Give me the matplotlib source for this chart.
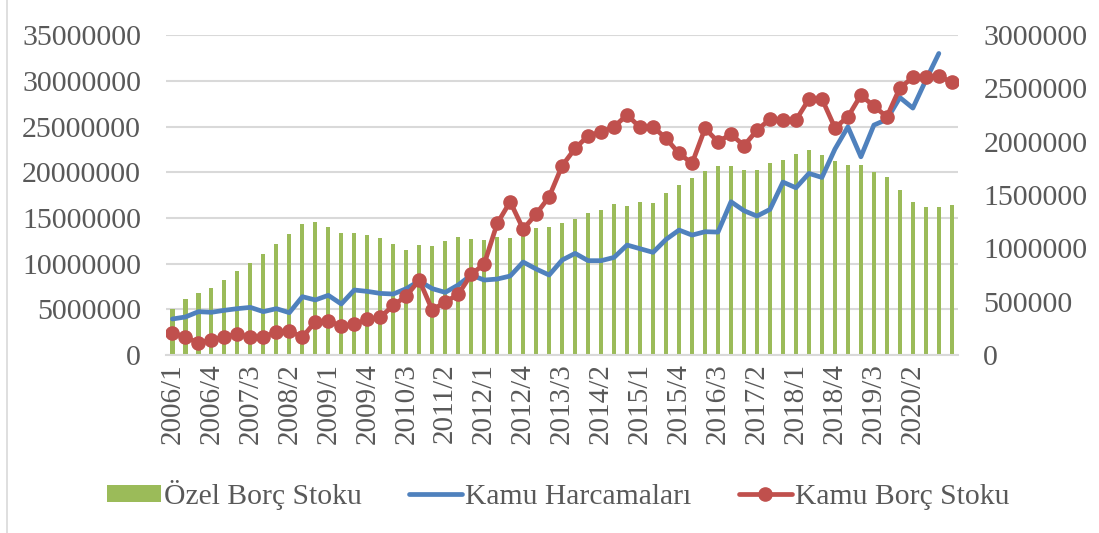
import matplotlib
matplotlib.use("Agg")
import matplotlib.pyplot as plt
from matplotlib.lines import Line2D
import numpy as np

# Quarterly categories 2006/1 ... 2021/1
categories = [f"{y}/{q}" for y in range(2006, 2022) for q in range(1, 5)][:61]

ozel_borc_stoku = [
    5.03e6, 6.16e6, 6.82e6, 7.29e6, 8.17e6, 9.15e6, 10.03e6, 11.05e6, 12.10e6, 13.20e6,
    14.33e6, 14.55e6, 14.00e6, 13.34e6, 13.38e6, 13.09e6, 12.76e6, 12.14e6, 11.52e6, 12.00e6,
    11.89e6, 12.50e6, 12.87e6, 12.69e6, 12.58e6, 12.87e6, 12.80e6, 13.30e6, 13.93e6, 14.00e6,
    14.44e6, 14.84e6, 15.57e6, 15.86e6, 16.55e6, 16.33e6, 16.70e6, 16.59e6, 17.72e6, 18.56e6,
    19.36e6, 20.09e6, 20.64e6, 20.67e6, 20.20e6, 20.23e6, 20.96e6, 21.29e6, 21.95e6, 22.42e6,
    21.87e6, 21.25e6, 20.82e6, 20.82e6, 20.05e6, 19.47e6, 18.01e6, 16.77e6, 16.19e6, 16.15e6,
    16.37e6,
]

kamu_harcamalari = [
    3.94e6, 4.16e6, 4.74e6, 4.67e6, 4.89e6, 5.07e6, 5.21e6, 4.74e6, 5.07e6, 4.63e6,
    6.38e6, 6.02e6, 6.53e6, 5.58e6, 7.11e6, 6.96e6, 6.74e6, 6.67e6, 7.26e6, 8.10e6,
    7.26e6, 6.85e6, 7.66e6, 8.75e6, 8.20e6, 8.31e6, 8.64e6, 10.17e6, 9.41e6, 8.75e6,
    10.39e6, 11.12e6, 10.32e6, 10.32e6, 10.68e6, 12.03e6, 11.63e6, 11.23e6, 12.65e6, 13.67e6,
    13.12e6, 13.49e6, 13.45e6, 16.77e6, 15.79e6, 15.20e6, 15.93e6, 18.92e6, 18.30e6, 19.87e6,
    19.43e6, 22.53e6, 24.97e6, 21.69e6, 25.16e6, 25.78e6, 28.18e6, 27.02e6, 30.08e6, 33.00e6,
]

kamu_borc_stoku = [
    209e3, 166e3, 116e3, 141e3, 172e3, 194e3, 166e3, 172e3, 213e3, 228e3,
    166e3, 313e3, 319e3, 272e3, 288e3, 334e3, 353e3, 466e3, 553e3, 703e3,
    422e3, 497e3, 569e3, 756e3, 853e3, 1234e3, 1438e3, 1181e3, 1322e3, 1484e3,
    1775e3, 1938e3, 2056e3, 2094e3, 2141e3, 2253e3, 2134e3, 2141e3, 2031e3, 1891e3,
    1797e3, 2125e3, 2000e3, 2072e3, 1963e3, 2109e3, 2213e3, 2203e3, 2203e3, 2400e3,
    2403e3, 2131e3, 2234e3, 2438e3, 2334e3, 2234e3, 2506e3, 2603e3, 2603e3, 2616e3,
    2559e3,
]

left_ticks = [0, 5000000, 10000000, 15000000, 20000000, 25000000, 30000000, 35000000]
right_ticks = [0, 500000, 1000000, 1500000, 2000000, 2500000, 3000000]

GREEN = "#9BBB59"
BLUE = "#4F81BD"
RED = "#C0504D"
TXT = "#595959"
GRID = "#D9D9D9"

plt.rcParams["font.family"] = ["Liberation Serif", "DejaVu Serif"]
plt.rcParams["legend.numpoints"] = 1

fig = plt.figure(figsize=(10.99, 5.33), dpi=100)
ax = fig.add_axes([0.151, 0.334, 0.721, 0.600])
ax2 = ax.twinx()

x = np.arange(len(categories))
bars = ax.bar(x, ozel_borc_stoku, width=0.32, color=GREEN, zorder=2, label="Özel Borç Stoku")
blue_line, = ax.plot(np.arange(len(kamu_harcamalari)), kamu_harcamalari, color=BLUE, lw=3.4,
                     solid_capstyle="round", solid_joinstyle="round", zorder=3,
                     label="Kamu Harcamaları")
red_line, = ax2.plot(x, kamu_borc_stoku, color=RED, lw=3.4, marker="o", ms=9.5,
                     solid_joinstyle="round", solid_capstyle="round", zorder=4,
                     label="Kamu Borç Stoku")

ax.set_xlim(-0.5, len(categories) - 0.5)
ax.set_ylim(0, 35000000)
ax2.set_ylim(0, 3000000)
ax.set_yticks(left_ticks)
ax.set_yticklabels([str(v) for v in left_ticks])
ax2.set_yticks(right_ticks)
ax2.set_yticklabels([str(v) for v in right_ticks])

shown = list(range(0, 58, 3))
ax.set_xticks(shown)
ax.set_xticklabels([categories[i] for i in shown], rotation=90)

ax.yaxis.grid(True, color=GRID, lw=1.5, zorder=0)
ax.set_axisbelow(True)
for a in (ax, ax2):
    for s in a.spines.values():
        s.set_visible(False)
ax.spines["bottom"].set_visible(True)
ax.spines["bottom"].set_color(GRID)
ax.spines["bottom"].set_linewidth(1.5)

ax.tick_params(axis="y", length=0, pad=18, labelsize=21.5, labelcolor=TXT)
ax2.tick_params(axis="y", length=0, pad=18, labelsize=21.5, labelcolor=TXT)
ax.tick_params(axis="x", length=0, pad=6, labelsize=21, labelcolor=TXT)

leg = fig.legend([bars, blue_line, red_line],
                 ["Özel Borç Stoku", "Kamu Harcamaları", "Kamu Borç Stoku"],
                 loc="center", bbox_to_anchor=(0.508, 0.072), ncol=3,
                 frameon=False, fontsize=21.3, handlelength=1.8, handleheight=0.5,
                 handletextpad=0.1, columnspacing=1.6, labelcolor=TXT)

# chart border fragment at the left
fig.add_artist(Line2D([0.0065, 0.0065], [0.0, 1.0], color=GRID, lw=1.2, transform=fig.transFigure))

fig.savefig("out.png", dpi=100)
